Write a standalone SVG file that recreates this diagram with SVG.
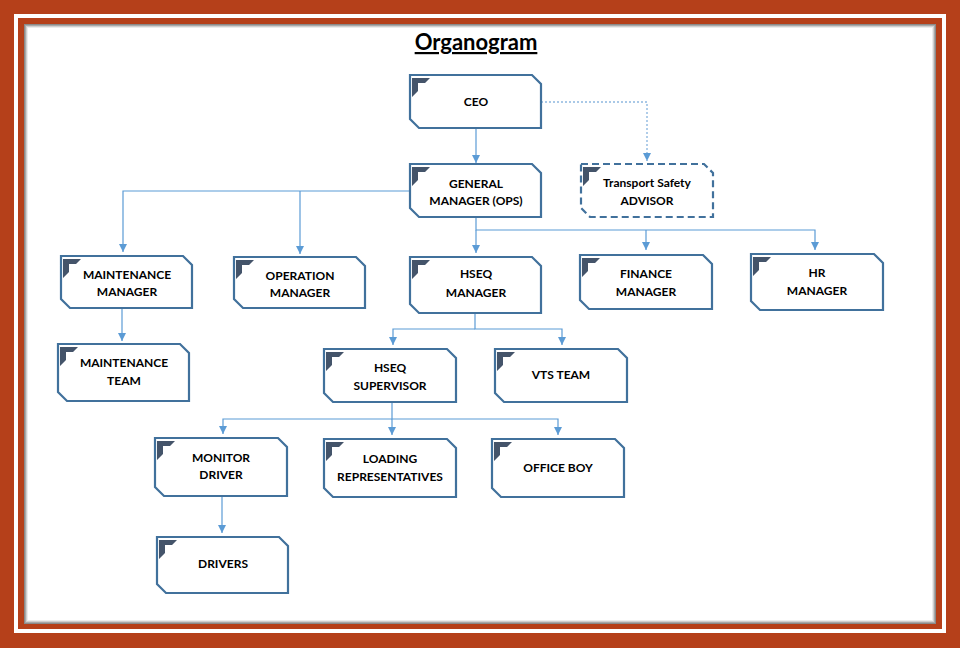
<svg xmlns="http://www.w3.org/2000/svg" width="960" height="648" viewBox="0 0 960 648">
<defs>
<marker id="arr" markerUnits="userSpaceOnUse" markerWidth="9" markerHeight="8" refX="8" refY="4" orient="auto">
<path d="M0,0 L8,4 L0,8 Z" fill="#5B9BD5"/>
</marker>
<path id="glyph" d="M0,0 H18 L13,5 H6 V13 L0,19 Z"/>
</defs>
<style>
.box{fill:#fff;stroke:#41719C;stroke-width:2.2}
.dash{fill:#fff;stroke:#41719C;stroke-width:2.2;stroke-dasharray:7,4}
.g{fill:#44546A}
.t{font-family:Lato,"Liberation Sans",sans-serif;font-weight:bold;font-size:12px;fill:#000;text-anchor:middle}
.c{fill:none;stroke:#5B9BD5;stroke-width:1.2}
.d{fill:none;stroke:#8FB8E0;stroke-width:1.4;stroke-dasharray:2,2}
</style>
<rect x="0" y="0" width="960" height="648" fill="#B5401A"/>
<rect x="16" y="16" width="928" height="615" fill="none" stroke="#fff" stroke-width="4"/>
<rect x="24" y="24" width="912" height="600" fill="#fff"/>
<rect x="24.5" y="24.5" width="911" height="599" fill="none" stroke="#8a8a8a"/>
<rect x="25.5" y="25.5" width="909" height="597" fill="none" stroke="#a8a8a8"/>
<rect x="26.5" y="26.5" width="907" height="595" fill="none" stroke="#cfcfcf"/>
<rect x="27.5" y="27.5" width="905" height="593" fill="none" stroke="#ececec"/>
<text x="476" y="50" style="font-family:Lato,'Liberation Sans',sans-serif;font-weight:bold;font-size:22px;text-anchor:middle;text-decoration:underline" fill="#000">Organogram</text>
<g id="connectors">
<path class="c" d="M476,128 V163" marker-end="url(#arr)"/>
<path class="d" d="M541,102 H647 V161" marker-end="url(#arr)"/>
<path class="c" d="M410,191 H123 V252" marker-end="url(#arr)"/>
<path class="c" d="M300,191 V254" marker-end="url(#arr)"/>
<path class="c" d="M476,217 V230 H815 V250" marker-end="url(#arr)"/>
<path class="c" d="M476,230 V253" marker-end="url(#arr)"/>
<path class="c" d="M646,230 V250" marker-end="url(#arr)"/>
<path class="c" d="M122,308 V341" marker-end="url(#arr)"/>
<path class="c" d="M475,313 V329 H562 V345" marker-end="url(#arr)"/>
<path class="c" d="M475,329 H393 V345" marker-end="url(#arr)"/>
<path class="c" d="M392,402 V419 H558 V435" marker-end="url(#arr)"/>
<path class="c" d="M392,419 H223 V434" marker-end="url(#arr)"/>
<path class="c" d="M392,419 V435" marker-end="url(#arr)"/>
<path class="c" d="M222,496 V533" marker-end="url(#arr)"/>
</g>
<g id="ceo">
<path class="box" d="M410,75 H532 L541,84 V128 H419 L410,119 Z"/>
<use href="#glyph" class="g" x="412" y="78"/>
<text class="t" x="476" y="106">CEO</text>
</g>
<g id="gm">
<path class="box" d="M410,164 H532 L541,173 V217 H419 L410,208 Z"/>
<use href="#glyph" class="g" x="412" y="167"/>
<text class="t" x="476" y="188">GENERAL</text>
<text class="t" x="476" y="205">MANAGER (OPS)</text>
</g>
<g id="advisor">
<path class="dash" d="M581,164 H704 L713,173 V217 H590 L581,208 Z"/>
<use href="#glyph" class="g" x="583" y="167"/>
<text class="t" x="647" y="187">Transport Safety</text>
<text class="t" x="647" y="205">ADVISOR</text>
</g>
<g id="maint-mgr">
<path class="box" d="M61,256 H183 L192,265 V308 H70 L61,299 Z"/>
<use href="#glyph" class="g" x="63" y="259"/>
<text class="t" x="127" y="279">MAINTENANCE</text>
<text class="t" x="127" y="296">MANAGER</text>
</g>
<g id="op-mgr">
<path class="box" d="M234,257 H356 L365,266 V308 H243 L234,299 Z"/>
<use href="#glyph" class="g" x="236" y="260"/>
<text class="t" x="300" y="280">OPERATION</text>
<text class="t" x="300" y="297">MANAGER</text>
</g>
<g id="hseq-mgr">
<path class="box" d="M410,257 H532 L541,266 V313 H419 L410,304 Z"/>
<use href="#glyph" class="g" x="412" y="260"/>
<text class="t" x="476" y="278">HSEQ</text>
<text class="t" x="476" y="297">MANAGER</text>
</g>
<g id="finance">
<path class="box" d="M580,255 H703 L712,264 V309 H589 L580,300 Z"/>
<use href="#glyph" class="g" x="582" y="258"/>
<text class="t" x="646" y="278">FINANCE</text>
<text class="t" x="646" y="296">MANAGER</text>
</g>
<g id="hr">
<path class="box" d="M751,254 H874 L883,263 V310 H760 L751,301 Z"/>
<use href="#glyph" class="g" x="753" y="257"/>
<text class="t" x="817" y="277">HR</text>
<text class="t" x="817" y="295">MANAGER</text>
</g>
<g id="maint-team">
<path class="box" d="M58,344 H180 L189,353 V401 H67 L58,392 Z"/>
<use href="#glyph" class="g" x="60" y="347"/>
<text class="t" x="124" y="367">MAINTENANCE</text>
<text class="t" x="124" y="385">TEAM</text>
</g>
<g id="hseq-sup">
<path class="box" d="M324,349 H447 L456,358 V402 H333 L324,393 Z"/>
<use href="#glyph" class="g" x="326" y="352"/>
<text class="t" x="390" y="372">HSEQ</text>
<text class="t" x="390" y="390">SUPERVISOR</text>
</g>
<g id="vts">
<path class="box" d="M495,349 H618 L627,358 V402 H504 L495,393 Z"/>
<use href="#glyph" class="g" x="497" y="352"/>
<text class="t" x="561" y="379">VTS TEAM</text>
</g>
<g id="monitor">
<path class="box" d="M155,438 H278 L287,447 V496 H164 L155,487 Z"/>
<use href="#glyph" class="g" x="157" y="441"/>
<text class="t" x="221" y="462">MONITOR</text>
<text class="t" x="221" y="479">DRIVER</text>
</g>
<g id="loading">
<path class="box" d="M324,439 H447 L456,448 V497 H333 L324,488 Z"/>
<use href="#glyph" class="g" x="326" y="442"/>
<text class="t" x="390" y="463">LOADING</text>
<text class="t" x="390" y="481">REPRESENTATIVES</text>
</g>
<g id="officeboy">
<path class="box" d="M492,439 H615 L624,448 V497 H501 L492,488 Z"/>
<use href="#glyph" class="g" x="494" y="442"/>
<text class="t" x="558" y="472">OFFICE BOY</text>
</g>
<g id="drivers">
<path class="box" d="M157,537 H279 L288,546 V593 H166 L157,584 Z"/>
<use href="#glyph" class="g" x="159" y="540"/>
<text class="t" x="223" y="568">DRIVERS</text>
</g>
</svg>
